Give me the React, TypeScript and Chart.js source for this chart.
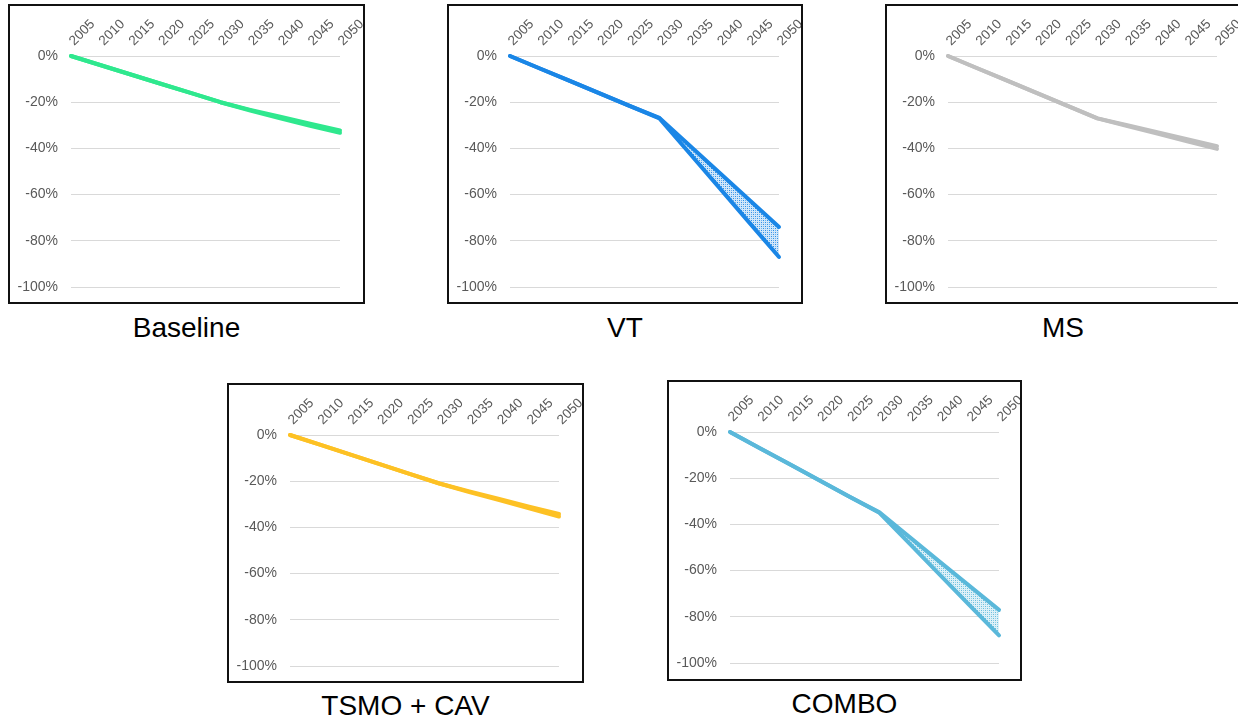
import React, { useEffect, useRef } from "react";
import { Chart, registerables } from "chart.js";

Chart.register(...registerables);

const years = ["2005", "2010", "2015", "2020", "2025", "2030", "2035", "2040", "2045", "2050"];
const yMin = -100;
const yMax = 0;
const yStep = 20;

const baselineUpper = [0, -4, -8, -12, -16, -20, -23.3, -26.3, -29.3, -32.2];
const baselineLower = [0, -4, -8, -12, -16, -20, -23.6, -27, -30.2, -33.2];
const vtUpper = [0, -5.4, -10.8, -16.2, -21.6, -26.8, -38.6, -50.4, -62.2, -74];
const vtLower = [0, -5.4, -10.8, -16.2, -21.6, -27, -42, -57, -72, -87];
const msUpper = [0, -5.4, -10.8, -16.2, -21.6, -27, -30, -33, -36, -39];
const msLower = [0, -5.4, -10.8, -16.2, -21.6, -27, -30.3, -33.6, -36.9, -40.2];
const tsmoUpper = [0, -4.2, -8.4, -12.6, -16.8, -21, -24.4, -27.7, -31, -34.2];
const tsmoLower = [0, -4.2, -8.4, -12.6, -16.8, -21, -24.7, -28.2, -31.7, -35.3];
const comboUpper = [0, -7, -14, -21, -28, -34.8, -45.4, -56, -66.5, -77];
const comboLower = [0, -7, -14, -21, -28, -35, -48.2, -61.5, -74.8, -88];

const FONT = "'Liberation Sans', Arial, Helvetica, sans-serif";

type PanelProps = {
  left: number;
  top: number;
  w: number;
  h: number;
  title: string;
  titleTop: number;
  color: string;
  upper: number[];
  lower: number[];
  band: boolean;
};

function makePattern(color: string): CanvasPattern | string {
  const c = document.createElement("canvas");
  c.width = 4;
  c.height = 4;
  const ctx = c.getContext("2d");
  if (!ctx) return color;
  ctx.fillStyle = "#ffffff";
  ctx.fillRect(0, 0, 4, 4);
  ctx.fillStyle = color;
  ctx.globalAlpha = 0.2;
  ctx.fillRect(0, 0, 4, 4);
  ctx.globalAlpha = 0.9;
  ctx.fillRect(0, 0, 1, 1);
  ctx.fillRect(2, 2, 1, 1);
  ctx.globalAlpha = 0.55;
  ctx.fillRect(2, 0, 1, 1);
  ctx.fillRect(0, 2, 1, 1);
  const p = ctx.createPattern(c, "repeat");
  return p || color;
}

function Panel(props: PanelProps) {
  const ref = useRef<HTMLCanvasElement | null>(null);
  const iw = props.w - 4;
  const ih = props.h - 4;

  useEffect(() => {
    if (!ref.current) return;
    const pattern = makePattern(props.color);
    const chart = new Chart(ref.current, {
      type: "line",
      data: {
        labels: years,
        datasets: [
          {
            data: props.upper,
            borderColor: props.color,
            borderWidth: 4,
            pointRadius: 0,
            borderCapStyle: "round",
            borderJoinStyle: "round",
            fill: false,
            tension: 0,
            clip: false as any,
          },
          {
            data: props.lower,
            borderColor: props.color,
            backgroundColor: pattern as any,
            borderWidth: 4,
            pointRadius: 0,
            borderCapStyle: "round",
            borderJoinStyle: "round",
            fill: props.band ? "-1" : false,
            tension: 0,
            clip: false as any,
          },
        ],
      },
      options: {
        responsive: false,
        maintainAspectRatio: false,
        animation: false,
        layout: { padding: { left: 0, top: 0, right: iw - 330, bottom: ih - 281 } },
        plugins: { legend: { display: false }, tooltip: { enabled: false } },
        scales: {
          x: {
            type: "category",
            position: "top",
            grid: { display: false, drawTicks: false },
            border: { display: false },
            ticks: {
              autoSkip: false,
              maxRotation: 45,
              minRotation: 45,
              padding: 7,
              labelOffset: 12,
              color: "#595959",
              font: { family: FONT, size: 13.5 },
            },
            afterFit: (s: any) => {
              s.height = 50;
              s.paddingLeft = 0;
              s.paddingRight = 0;
            },
          },
          y: {
            min: yMin,
            max: yMax,
            ticks: {
              stepSize: yStep,
              padding: 13,
              color: "#595959",
              font: { family: FONT, size: 14 },
              callback: (v: any) => `${v}%`,
            },
            grid: { color: "#d9d9d9", lineWidth: 1, drawTicks: false },
            border: { display: false },
            afterFit: (s: any) => {
              s.width = 61;
              s.paddingTop = 0;
              s.paddingBottom = 0;
            },
          },
        },
      },
    });
    return () => chart.destroy();
  }, []);

  return (
    <>
      <div
        style={{
          position: "absolute",
          left: props.left,
          top: props.top,
          width: props.w,
          height: props.h,
          border: "2px solid #111",
          boxSizing: "border-box",
          background: "#fff",
        }}
      >
        <canvas ref={ref} width={iw} height={ih} style={{ display: "block" }} />
      </div>
      <div
        style={{
          position: "absolute",
          left: props.left,
          top: props.titleTop,
          width: props.w,
          textAlign: "center",
          fontFamily: FONT,
          fontSize: 28,
          lineHeight: "32px",
          color: "#000",
          whiteSpace: "nowrap",
        }}
      >
        {props.title}
      </div>
    </>
  );
}

export default function App() {
  return (
    <div
      style={{
        position: "absolute",
        left: 0,
        top: 0,
        width: 1238,
        height: 721,
        overflow: "hidden",
        background: "#fff",
      }}
    >
      <Panel left={8} top={4} w={357} h={300} title="Baseline" titleTop={312} color="#2fe88e" upper={baselineUpper} lower={baselineLower} band={false} />
      <Panel left={447} top={4} w={356} h={300} title="VT" titleTop={312} color="#1a86e6" upper={vtUpper} lower={vtLower} band={true} />
      <Panel left={885} top={4} w={356} h={300} title="MS" titleTop={312} color="#bfbfbf" upper={msUpper} lower={msLower} band={false} />
      <Panel left={227} top={383} w={357} h={300} title="TSMO + CAV" titleTop={690} color="#fdc124" upper={tsmoUpper} lower={tsmoLower} band={false} />
      <Panel left={667} top={380} w={355} h={301} title="COMBO" titleTop={688} color="#5ab8da" upper={comboUpper} lower={comboLower} band={true} />
    </div>
  );
}
